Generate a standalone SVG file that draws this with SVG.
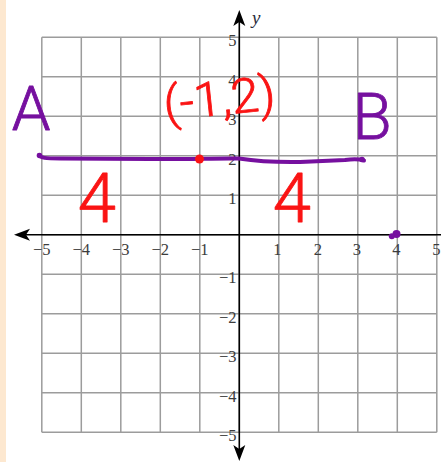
<svg xmlns="http://www.w3.org/2000/svg" xmlns:xlink="http://www.w3.org/1999/xlink" width="441" height="462" viewBox="0 0 441 462">
<style>
.grid{stroke:#9c9c9c;stroke-width:1.5;fill:none}
.axis{stroke:#000;stroke-width:1.6;fill:none}
.tick{font-family:"Liberation Serif","Times New Roman",serif;font-size:16.5px;fill:#3c3c3c}
.tx{text-anchor:middle}
.ty{text-anchor:end}
.pur{fill:#76109f}
.red{fill:#fa1414}
.hand{font-family:Roboto,"Open Sans","Liberation Sans",sans-serif;font-weight:300;text-anchor:middle;stroke-width:0.8;stroke-linejoin:round}
.hand.pur{stroke:#76109f}
.hand.red{stroke:#fa1414}
.pline{stroke:#76109f;stroke-width:4;fill:none;stroke-linecap:round;stroke-linejoin:round}
</style>
<defs>
<path id="arr" d="M0,0 L-16,-6 L-12,0 L-16,6 Z" fill="#000"/>
</defs>
<rect x="0" y="0" width="441" height="462" fill="#fff"/>
<rect x="0" y="0" width="6" height="462" fill="#fde8d0"/>
<g id="grid" class="grid">
<path d="M41.8,37.3V432.3M81.3,37.3V432.3M120.8,37.3V432.3M160.3,37.3V432.3M199.8,37.3V432.3M239.3,37.3V432.3M278.8,37.3V432.3M318.3,37.3V432.3M357.8,37.3V432.3M397.3,37.3V432.3M436.8,37.3V432.3"/>
<path d="M41.8,37.3H436.8M41.8,76.8H436.8M41.8,116.3H436.8M41.8,155.8H436.8M41.8,195.3H436.8M41.8,234.8H436.8M41.8,274.3H436.8M41.8,313.8H436.8M41.8,353.3H436.8M41.8,392.8H436.8M41.8,432.3H436.8"/>
</g>
<g id="axes">
<path class="axis" d="M22,234.8H441M239.3,18V453"/>
<use xlink:href="#arr" href="#arr" transform="translate(14,234.8) rotate(180)"/>
<use xlink:href="#arr" href="#arr" transform="translate(239.3,10) rotate(-90)"/>
<use xlink:href="#arr" href="#arr" transform="translate(239.3,461) rotate(90)"/>
</g>
<g id="tick-labels" class="tick">
<text class="tx" x="41.8" y="254.5">−5</text>
<text class="tx" x="81.3" y="254.5">−4</text>
<text class="tx" x="120.8" y="254.5">−3</text>
<text class="tx" x="160.3" y="254.5">−2</text>
<text class="tx" x="199.8" y="254.5">−1</text>
<text class="tx" x="277.3" y="254.5">1</text>
<text class="tx" x="317.8" y="254.5">2</text>
<text class="tx" x="356.8" y="254.5">3</text>
<text class="tx" x="396.3" y="254.5">4</text>
<text class="tx" x="436.3" y="254.5">5</text>
<text class="ty" x="236.5" y="46">5</text>
<text class="ty" x="236.5" y="85.5">4</text>
<text class="ty" x="236.5" y="125">3</text>
<text class="ty" x="236.5" y="164.5">2</text>
<text class="ty" x="236.5" y="204">1</text>
<text class="ty" x="236.5" y="283">−1</text>
<text class="ty" x="236.5" y="322.5">−2</text>
<text class="ty" x="236.5" y="362">−3</text>
<text class="ty" x="236.5" y="401.5">−4</text>
<text class="ty" x="236.5" y="441">−5</text>
<text x="252" y="24" style="font-family:'Liberation Serif',serif;font-style:italic;font-size:19px;fill:#2a2a3a">y</text>
</g>
<g id="segment-AB">
<path class="pline" d="M39,155 C41,158 45,158.5 60,158.5 L150,159 C190,159.5 215,158 239,158.5 C255,161 270,162.5 300,162 L345,160 C352,159 358,158.5 364,160.5"/>
<circle class="pur" cx="39.5" cy="155.5" r="2.8"/>
<circle class="pur" cx="362" cy="159.5" r="2.8"/>
</g>
<g id="midpoint">
<circle class="red" cx="199.5" cy="159" r="4.5"/>
<text class="hand red" x="219.5" y="115" font-size="48" textLength="112" lengthAdjust="spacingAndGlyphs" transform="rotate(-6 219.5 100)">(-1,2)</text>
</g>
<g id="label-A"><text class="hand pur" x="31" y="130" font-size="62">A</text></g>
<g id="label-B"><text class="hand pur" x="372" y="139" font-size="64">B</text></g>
<g id="length-left"><text class="hand red" x="97" y="222" font-size="69">4</text></g>
<g id="length-right"><text class="hand red" x="292" y="222" font-size="69">4</text></g>
<g id="point-4-0">
<circle class="pur" cx="396.5" cy="234" r="4"/>
<circle class="pur" cx="391.8" cy="236.3" r="3"/>
</g>
</svg>
